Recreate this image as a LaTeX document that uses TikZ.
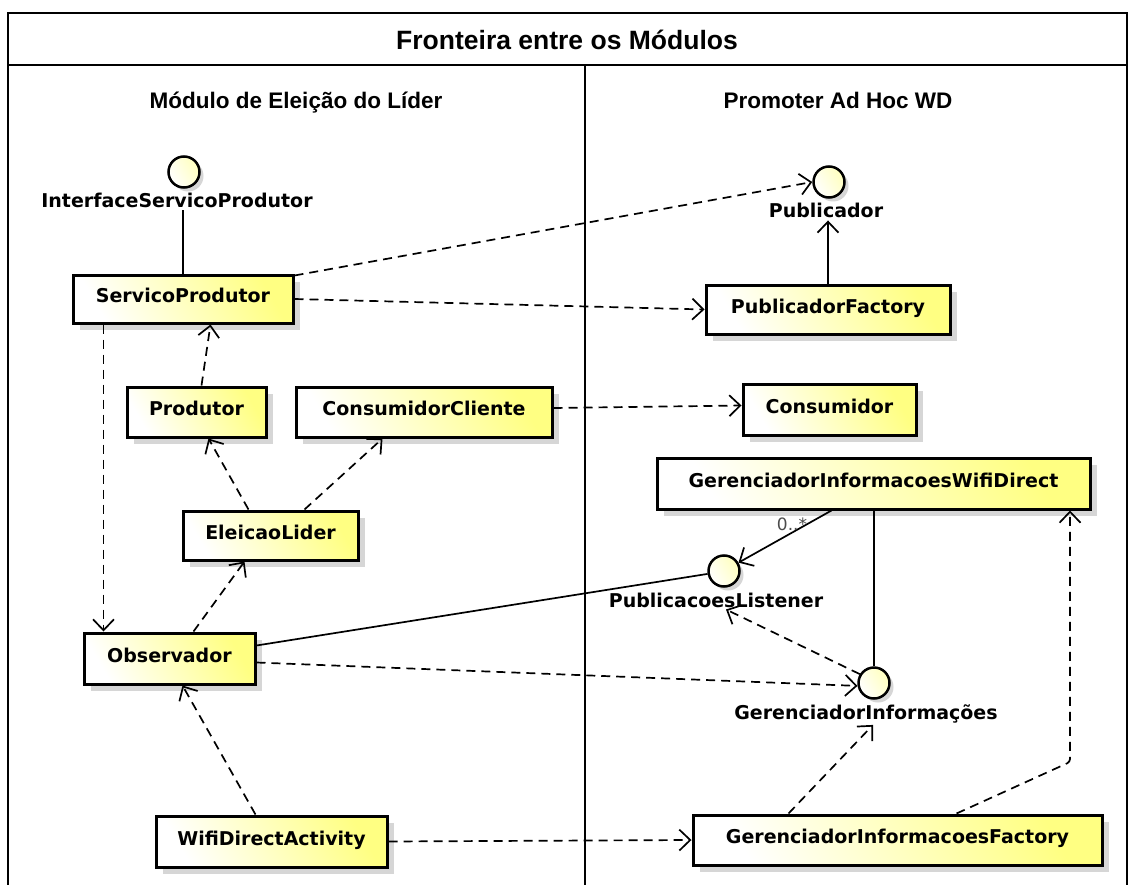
\documentclass[tikz,border=0pt]{standalone}
\usepackage{fontspec}
\setmainfont{DejaVu Sans}
\newfontfamily\hfont{Liberation Sans}
\usetikzlibrary{arrows.meta,shadows,calc}
\definecolor{uyel}{RGB}{255,255,130}
\definecolor{cyel}{RGB}{255,255,190}
\definecolor{shgray}{RGB}{214,214,214}
\begin{document}
\begin{tikzpicture}[x=1pt,y=-1pt,
  cls/.style={draw=black, line width=3pt, rectangle, inner sep=0pt,
    left color=white, right color=uyel, shading angle=120,
    drop shadow={shadow xshift=7pt, shadow yshift=-7pt, fill=shgray, opacity=1},
    font=\fontsize{19}{22}\selectfont\bfseries, text height=14pt, text depth=7pt},
  iface/.style={draw=black, line width=2.5pt, circle, minimum size=31pt, inner sep=0pt,
    left color=white, right color=cyel, shading angle=120,
    drop shadow={shadow xshift=4pt, shadow yshift=-4pt, fill=shgray, opacity=1}},
  lbl/.style={font=\fontsize{19}{22}\selectfont\bfseries, anchor=base, inner sep=2pt},
  hdr/.style={font=\hfont\fontsize{22.5}{26}\selectfont\bfseries, anchor=base},
  frame/.style={line width=2pt},
  barb/.tip={Straight Barb[length=11pt,width=21pt,line width=1.7pt]},
  dep/.style={line width=1.7pt, dash pattern=on 9pt off 6pt, -barb},
  assoc/.style={line width=1.7pt, -barb},
  link/.style={line width=1.7pt}
]
\useasboundingbox (0,0) rectangle (1134,885);
\fill[white] (0,0) rectangle (1134,885);

% frame
\draw[frame] (8,885) -- (8,13) -- (1127,13) -- (1127,885);
\draw[frame] (8,65) -- (1127,65);
\draw[frame] (585,65) -- (585,885);

\node[font=\hfont\fontsize{26.5}{30}\selectfont\bfseries, anchor=base] (title) at (567,50) {Fronteira entre os Módulos};
\node[hdr] (h1) at (296,109) {Módulo de Eleição do Líder};
\node[hdr] (h2) at (838,109) {Promoter Ad Hoc WD};

% classes
\node[cls, minimum width=220pt, minimum height=48pt] (sp) at (183,299) {ServicoProdutor};
\node[cls, minimum width=139pt, minimum height=50pt] (prod) at (196.5,412) {Produtor};
\node[cls, minimum width=256pt, minimum height=50pt] (cc) at (424,412) {ConsumidorCliente};
\node[cls, minimum width=175pt, minimum height=49pt] (el) at (270.5,535.5) {EleicaoLider};
\node[cls, minimum width=171pt, minimum height=51pt] (obs) at (169.5,658.5) {Observador};
\node[cls, minimum width=231pt, minimum height=51pt] (wda) at (271.5,841.5) {WifiDirectActivity};
\node[cls, minimum width=244pt, minimum height=49pt] (pf) at (828,309.5) {PublicadorFactory};
\node[cls, minimum width=173pt, minimum height=51pt] (cons) at (829.5,409.5) {Consumidor};
\node[cls, minimum width=433pt, minimum height=51pt] (gwd) at (873.5,483.5) {GerenciadorInformacoesWifiDirect};
\node[cls, minimum width=409pt, minimum height=50pt] (gif) at (897.5,840) {GerenciadorInformacoesFactory};

% interfaces
\node[iface] (isp) at (184,172) {};
\node[lbl] (ispl) at (177,208) {InterfaceServicoProdutor};
\node[iface] (pub) at (829,182) {};
\node[lbl] (publ) at (826,218) {Publicador};
\node[iface] (pl) at (724,571) {};
\node[lbl] (pll) at (716,607) {PublicacoesListener};
\node[iface] (gi) at (874,683) {};
\node[lbl] (gil) at (866,719) {GerenciadorInformações};

% connectors
\draw[link] (sp.north) -- (sp.north |- ispl.south);
\draw[dep] ([yshift=-2pt]sp.north east) -- (pub.west);
\draw[dep] (sp.east) -- (pf.west);
\draw[assoc] (pf.north) -- (pf.north |- publ.south);
\draw[dep] ([xshift=32pt]sp.south west) -- ([xshift=21pt]obs.north west);
\draw[dep] ([xshift=76pt]prod.north west) -- ([xshift=139pt]sp.south west);
\draw[dep] ([xshift=67pt]el.north west) -- ([xshift=83pt]prod.south west);
\draw[dep] ([xshift=123pt]el.north west) -- ([xshift=88pt]cc.south west);
\draw[dep] ([yshift=4pt]cc.east) -- ([yshift=4pt]cons.west);
\draw[dep] ([xshift=111pt]obs.north west) -- ([xshift=63pt]el.south west);
\draw[dep] ([xshift=101pt]wda.north west) -- ([xshift=100pt]obs.south west);
\draw[link] ([yshift=13pt]obs.east) -- (pl.190);
\draw[dep] ([yshift=-4pt]obs.east) -- (gi.190);
\draw[assoc] ([xshift=176pt]gwd.south west) -- (pl.30);
\node[font=\fontsize{17}{20}\selectfont, text=black!70] (mult) at (792,524) {0..*};
\draw[link] (gi.north) -- (gi.north |- gwd.south);
\draw[dep] (gi.148) -- ([xshift=10pt]pll.south);
\draw[dep] ([xshift=97pt]gif.north west) -- ([xshift=7pt]gil.south);
\coordinate (bend) at (1070,762);
\draw[dep, rounded corners=3pt] ([xshift=265pt]gif.north west) -- (bend) -- (bend |- gwd.south);
\draw[dep] (wda.east) -- (gif.west);
\end{tikzpicture}
\end{document}
